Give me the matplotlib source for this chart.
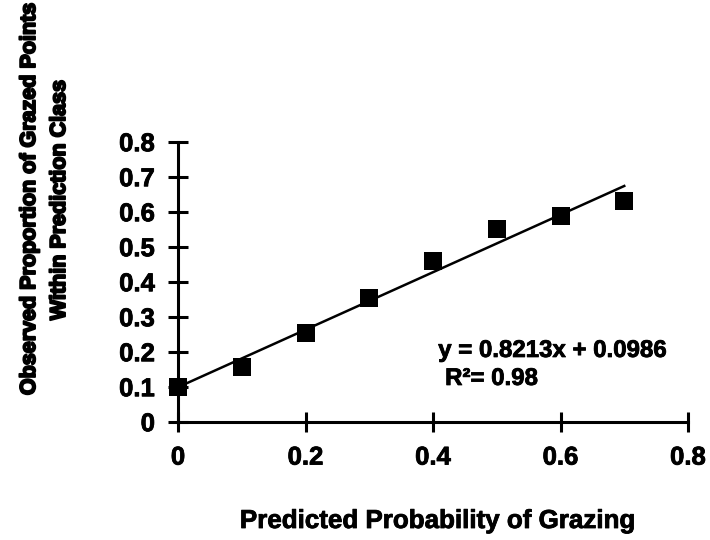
import numpy as np
import matplotlib
matplotlib.use("Agg")
import matplotlib.pyplot as plt
import matplotlib.patheffects as pe

# ── Data ──────────────────────────────────────────────────────────────────────
predicted = [0.0, 0.1, 0.2, 0.3, 0.4, 0.5, 0.6, 0.7]
observed  = [0.098, 0.157, 0.253, 0.354, 0.459, 0.551, 0.588, 0.631]
slope, intercept = 0.8213, 0.0986
x_ticks = [0, 0.2, 0.4, 0.6, 0.8]
y_ticks = [0, 0.1, 0.2, 0.3, 0.4, 0.5, 0.6, 0.7, 0.8]

plt.rcParams['font.family'] = ['Liberation Sans', 'DejaVu Sans']
plt.rcParams['font.weight'] = 'bold'

# slightly heavier strokes, like the scanned original
heavy = [pe.withStroke(linewidth=0.6, foreground='black')]

fig = plt.figure(figsize=(7.1, 5.4), dpi=100)
ax = fig.add_axes([178 / 710, 1 - 421.7 / 540, 510 / 710, 280 / 540])

ax.scatter(predicted, observed, marker='s', s=12.5 ** 2, color='black',
           zorder=3, linewidths=0, clip_on=False)
fit_x = np.array([predicted[0], predicted[-1]])
ax.plot(fit_x, slope * fit_x + intercept, color='black', linewidth=1.8, zorder=2)

ax.set_xlim(0, 0.8)
ax.set_ylim(0, 0.8)
ax.set_xticks(x_ticks)
ax.set_yticks(y_ticks)
fmt = lambda v: '0' if v == 0 else f'{v:.1f}'
ax.set_xticklabels([fmt(v) for v in x_ticks])
ax.set_yticklabels([fmt(v) for v in y_ticks])

for side in ('top', 'right'):
    ax.spines[side].set_visible(False)
for side in ('left', 'bottom'):
    ax.spines[side].set_linewidth(2.2)
ax.tick_params(direction='inout', length=14.4, width=2.2, labelsize=18.5)
ax.tick_params(axis='x', pad=10)
ax.tick_params(axis='y', pad=9.4)
for lab in ax.get_xticklabels() + ax.get_yticklabels():
    lab.set_path_effects(heavy)

ax.text(0.7666, 0.185, 'y = 0.8213x + 0.0986', fontsize=17.3,
        ha='right', va='baseline', path_effects=heavy)
ax.text(0.419, 0.105, 'R²= 0.98', fontsize=17.3, ha='left', va='baseline',
        path_effects=heavy)

fig.text(438.5 / 710, 1 - 528 / 540, 'Predicted Probability of Grazing',
         fontsize=18.7, ha='center', va='baseline', path_effects=heavy)
ylab_heavy = [pe.withStroke(linewidth=1.4, foreground='black')]
fig.text(35 / 710, 1 - 199 / 540, 'Observed Proportion of Grazed Points',
         fontsize=15.5, ha='center', va='baseline', rotation=90,
         rotation_mode='anchor', path_effects=ylab_heavy)
fig.text(65 / 710, 1 - 200 / 540, 'Within Prediction Class',
         fontsize=15.5, ha='center', va='baseline', rotation=90,
         rotation_mode='anchor', path_effects=ylab_heavy)

plt.savefig('out.png', dpi=100)
plt.close()
